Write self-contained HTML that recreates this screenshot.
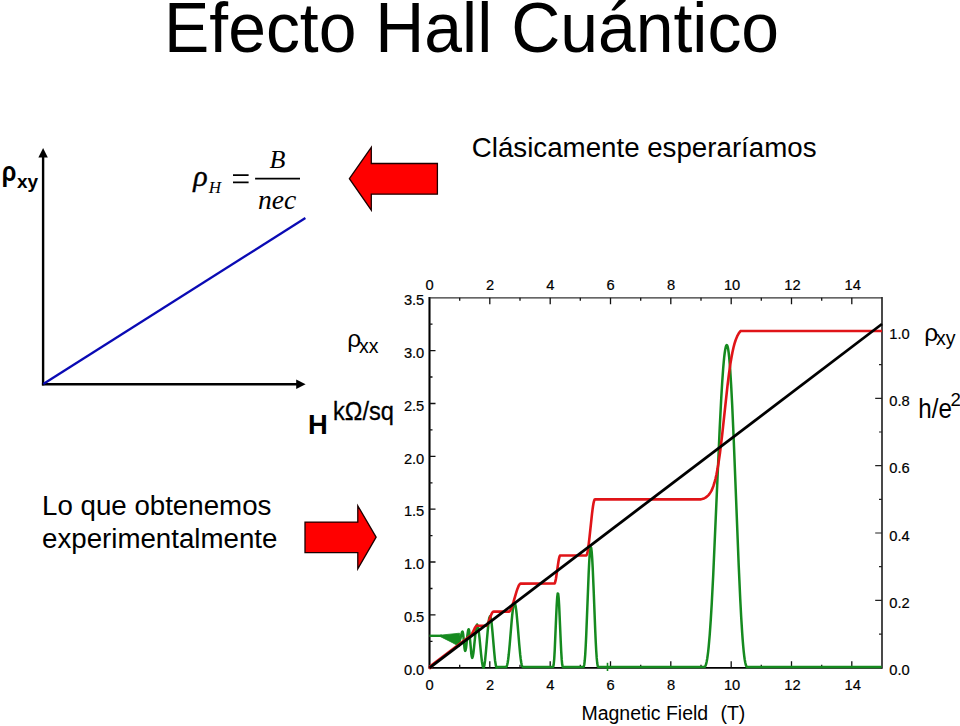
<!DOCTYPE html>
<html lang="es">
<head>
<meta charset="utf-8">
<title>Efecto Hall Cuántico</title>
<style>
html,body{margin:0;padding:0;background:#fff;}
body{width:960px;height:726px;position:relative;overflow:hidden;font-family:"Liberation Sans",sans-serif;color:#000;}
.abs{position:absolute;white-space:nowrap;margin:0;font-weight:normal;}
h1.title{left:164px;top:-10.2px;font-size:67.9px;line-height:78px;transform:scaleY(1.045);transform-origin:0 61px;}
.clas{left:471.8px;top:130.6px;font-size:27.7px;line-height:34px;transform:scaleY(1.03);transform-origin:0 26px;}
.lo{left:42px;top:490px;font-size:27.7px;line-height:32.5px;white-space:normal;width:300px;transform:scaleY(1.025);transform-origin:0 42px;}
svg{position:absolute;left:0;top:0;}
svg text{font-family:"Liberation Sans",sans-serif;fill:#000;}
.ser{font-family:"Liberation Serif",serif !important;font-style:italic;}
</style>
</head>
<body>
<h1 class="abs title">Efecto Hall Cuántico</h1>
<p class="abs clas">Clásicamente esperaríamos</p>
<p class="abs lo">Lo que obtenemos experimentalmente</p>
<svg width="960" height="726" viewBox="0 0 960 726">
 <!-- left schematic -->
 <g stroke="#000" stroke-width="2.4" fill="none">
  <path d="M43.1,385.4V156"/>
  <path d="M41.9,384.3H297"/>
 </g>
 <path d="M43.1,148 L47.8,157.4 H38.4 Z" fill="#000"/>
 <path d="M305.6,384.3 L296.2,389 V379.6 Z" fill="#000"/>
 <path d="M43.3,384 L305.4,218" stroke="#0a0ab4" stroke-width="2.3" fill="none"/>
 <text x="1.8" y="181.3" font-size="27.5" font-weight="bold" textLength="14.6" lengthAdjust="spacingAndGlyphs">ρ</text>
 <text x="17" y="187.6" font-size="19" font-weight="bold">xy</text>
 <!-- formula -->
 <g class="ser">
  <text class="ser" x="193.2" y="186" font-size="30" stroke="#000" stroke-width="0.35">ρ</text>
  <text class="ser" x="208.8" y="193.3" font-size="17">H</text>
  <text class="ser" x="269.5" y="167.7" font-size="26">B</text>
  <text class="ser" x="258" y="209.2" font-size="27.6">nec</text>
 </g>
 <path d="M233,175.2h15.6M233,182.4h15.6" stroke="#000" stroke-width="1.7"/>
 <path d="M255.1,178.6H300" stroke="#000" stroke-width="1.7"/>
 <!-- red arrows -->
 <path d="M349.4,178.7 L371.3,147.4 V163.5 H437.4 V194.2 H371.3 V210.2 Z" fill="#ff0000" stroke="#1c0000" stroke-width="1.3" stroke-linejoin="miter"/>
 <path d="M376.1,537.2 L357.8,505.8 V522.1 H305 V552.7 H357.8 V568.8 Z" fill="#ff0000" stroke="#1c0000" stroke-width="1.3" stroke-linejoin="miter"/>
 <!-- chart -->
 <g id="chart">
  <path d="M429.5,296.9V668.8" stroke="#000" stroke-width="2.1" fill="none"/>
  <path d="M429.5,667.8H882.0" stroke="#000" stroke-width="1.8" fill="none"/>
  <path d="M429.5,297.8H882.0" stroke="#333" stroke-width="1.25" fill="none"/>
  <path d="M882.0,296.9V668.8" stroke="#2a2a2a" stroke-width="1.7" fill="none"/>
  <path d="M459.7,667.8v-3M459.7,297.8v3M489.8,667.8v-6.5M489.8,297.8v6.5M520.0,667.8v-3M520.0,297.8v3M550.2,667.8v-6.5M550.2,297.8v6.5M580.3,667.8v-3M580.3,297.8v3M610.5,667.8v-6.5M610.5,297.8v6.5M640.7,667.8v-3M640.7,297.8v3M670.8,667.8v-6.5M670.8,297.8v6.5M701.0,667.8v-3M701.0,297.8v3M731.2,667.8v-6.5M731.2,297.8v6.5M761.3,667.8v-3M761.3,297.8v3M791.5,667.8v-6.5M791.5,297.8v6.5M821.7,667.8v-3M821.7,297.8v3M851.8,667.8v-6.5M851.8,297.8v6.5M429.5,641.3h3M429.5,614.9h6M429.5,588.5h3M429.5,562.0h6M429.5,535.6h3M429.5,509.2h6M429.5,482.8h3M429.5,456.3h6M429.5,429.9h3M429.5,403.5h6M429.5,377.0h3M429.5,350.6h6M429.5,324.2h3" stroke="#111" stroke-width="1.3" fill="none"/>
  <path d="M882.0,634.1h-3M882.0,600.4h-6.8M882.0,566.7h-3M882.0,533.0h-6.8M882.0,499.4h-3M882.0,465.7h-6.8M882.0,432.0h-3M882.0,398.3h-6.8M882.0,364.7h-3M882.0,331.0h-6.8" stroke="#222" stroke-width="1.2" fill="none"/>
  <path d="M440,635.2 L459.5,633.2 L460.5,640 L459.5,646.6 L452,642.4 L440,636.4 Z" fill="#158a1f" stroke="#158a1f" stroke-width="0.8"/>
  <path d="M429.5,635.8H442" stroke="#158a1f" stroke-width="2.4" fill="none"/>
  <path d="M459.5,640.5 L459.9,640.2 L460.2,639.2 L460.6,637.8 L461.4,634.3 L461.8,632.9 L462.1,631.9 L462.5,631.6 L462.8,632.3 L463.2,634.4 L464.5,648.1 L464.9,650.2 L465.2,650.9 L465.6,650.1 L466.1,647.7 L466.5,644.2 L467.3,635.9 L467.8,632.4 L468.2,630.0 L468.6,629.2 L469.1,630.3 L469.5,633.4 L469.9,638.1 L470.9,649.0 L471.3,653.7 L471.8,656.8 L472.2,657.9 L472.8,656.6 L473.4,653.0 L474.0,647.6 L475.3,634.8 L475.9,629.4 L476.5,625.8 L477.1,624.5 L477.9,626.1 L478.7,630.8 L479.5,637.8 L481.1,654.4 L481.9,661.4 L482.7,666.1 L483.5,667.8 L484.3,665.8 L485.1,660.2 L485.9,651.9 L487.6,632.2 L488.4,623.8 L489.2,618.3 L490.0,616.3 L490.8,618.3 L491.7,623.8 L492.5,632.2 L494.2,651.9 L495.0,660.2 L495.9,665.8 L496.7,667.8 L496.7,667.1 L505.7,667.1 L506.2,667.0 L506.7,666.3 L507.2,664.8 L507.7,662.5 L508.2,659.2 L508.7,655.0 L509.7,644.6 L511.7,620.6 L512.2,615.3 L512.7,610.8 L513.2,607.1 L513.7,604.6 L514.2,603.2 L514.7,603.1 L515.2,604.2 L515.7,606.6 L516.2,610.1 L516.7,614.6 L517.7,625.7 L519.2,644.0 L520.2,654.7 L520.7,658.9 L521.2,662.3 L521.7,664.8 L522.2,666.3 L522.7,667.0 L523.2,667.1 L552.7,667.1 L553.2,666.9 L553.7,664.5 L554.2,659.1 L554.7,650.6 L556.2,615.6 L556.7,605.1 L557.2,597.4 L557.7,593.5 L558.2,594.0 L558.7,598.4 L559.2,606.5 L560.7,640.8 L561.2,651.3 L561.7,659.4 L562.2,664.6 L562.7,666.9 L563.2,667.1 L583.2,667.1 L583.7,666.8 L584.2,665.0 L584.7,661.0 L585.2,654.8 L585.7,646.3 L586.2,635.9 L588.7,572.6 L589.2,562.3 L589.7,554.4 L590.2,549.2 L590.7,547.0 L591.2,547.9 L591.7,551.8 L592.2,558.6 L592.7,567.7 L593.7,591.2 L595.2,629.8 L595.7,641.0 L596.2,650.5 L596.7,657.9 L597.2,663.0 L597.7,666.0 L598.2,667.1 L704.2,667.1 L704.7,666.9 L705.2,666.3 L705.7,665.3 L706.2,663.7 L706.7,661.5 L707.2,658.8 L707.7,655.3 L708.2,651.3 L708.7,646.5 L709.7,635.0 L710.7,620.9 L711.7,604.4 L713.2,575.5 L719.7,428.3 L721.2,398.9 L722.2,382.2 L723.2,368.2 L723.7,362.3 L724.2,357.2 L724.7,353.0 L725.2,349.7 L725.7,347.2 L726.2,345.7 L726.7,345.0 L727.2,345.4 L727.7,346.8 L728.2,349.3 L728.7,353.0 L729.2,357.6 L729.7,363.3 L730.2,370.0 L731.2,386.1 L732.2,405.3 L733.7,439.0 L738.7,565.2 L740.2,598.2 L741.2,617.2 L742.2,633.2 L742.7,640.1 L743.2,646.2 L743.7,651.4 L744.2,655.8 L744.7,659.5 L745.2,662.3 L745.7,664.5 L746.2,665.9 L746.7,666.8 L747.2,667.1 L881.7,667.1" stroke="#158a1f" stroke-width="2.5" fill="none" stroke-linejoin="round"/>
  <path d="M607.5,662.8V671" stroke="#158a1f" stroke-width="1.6" fill="none"/>
  <path d="M429.0,668.5l3.5,-2.8" stroke="#e01418" stroke-width="3" fill="none"/>
  <path d="M429.5,666.8 L470.0,636.0 L470.5,635.8 L471.0,635.4 L471.5,634.8 L472.0,633.9 L474.5,628.7 L475.0,627.7 L475.5,626.9 L476.0,626.2 L476.5,625.8 L477.0,625.7 L486.0,625.7 L486.5,625.5 L487.0,625.0 L487.5,624.2 L488.0,623.2 L489.0,620.7 L491.0,615.3 L491.5,614.1 L492.0,613.1 L492.5,612.3 L493.0,611.8 L493.5,611.6 L508.5,611.6 L509.0,611.6 L509.5,611.3 L510.0,610.7 L510.5,609.9 L511.0,609.0 L512.0,606.5 L513.5,601.9 L516.5,591.7 L517.5,588.7 L518.5,586.2 L519.0,585.2 L519.5,584.5 L520.0,583.9 L520.5,583.6 L554.5,583.5 L555.0,582.7 L555.5,580.9 L556.0,578.3 L558.5,561.3 L559.0,558.6 L559.5,556.6 L560.0,555.6 L560.5,555.5 L586.0,555.5 L586.5,555.3 L587.0,554.2 L587.5,552.1 L588.0,549.3 L588.5,545.8 L589.5,537.4 L592.0,513.9 L592.5,509.8 L593.0,506.2 L593.5,503.3 L594.0,501.1 L594.5,499.7 L595.0,499.4 L700.5,499.4 L702.0,499.1 L704.0,498.4 L705.5,497.6 L706.5,496.9 L707.5,496.1 L708.5,495.1 L709.5,493.9 L710.5,492.4 L711.5,490.6 L712.5,488.4 L713.5,485.7 L714.5,482.5 L715.5,478.8 L716.5,474.3 L717.5,469.1 L718.5,463.1 L720.0,452.7 L722.0,436.3 L727.5,385.6 L729.0,373.6 L730.5,363.1 L731.5,357.2 L732.5,352.0 L733.5,347.5 L734.5,343.7 L735.5,340.5 L736.5,337.9 L737.5,335.6 L738.5,333.8 L739.5,332.3 L740.5,331.1 L741.0,331.0 L882.0,331.0" stroke="#e01418" stroke-width="2.6" fill="none" stroke-linejoin="round"/>
  <path d="M429.5,667.8 L882.0,324" stroke="#000" stroke-width="2.8" fill="none"/>
  <g font-size="14.7" stroke="#000" stroke-width="0.2">
<text x="429.7" y="689.7" text-anchor="middle">0</text>
<text x="429.7" y="290.4" text-anchor="middle">0</text>
<text x="490.0" y="689.7" text-anchor="middle">2</text>
<text x="490.0" y="290.4" text-anchor="middle">2</text>
<text x="550.4" y="689.7" text-anchor="middle">4</text>
<text x="550.4" y="290.4" text-anchor="middle">4</text>
<text x="610.7" y="689.7" text-anchor="middle">6</text>
<text x="610.7" y="290.4" text-anchor="middle">6</text>
<text x="671.0" y="689.7" text-anchor="middle">8</text>
<text x="671.0" y="290.4" text-anchor="middle">8</text>
<text x="732.1" y="689.7" text-anchor="middle">10</text>
<text x="732.1" y="290.4" text-anchor="middle">10</text>
<text x="792.4" y="689.7" text-anchor="middle">12</text>
<text x="792.4" y="290.4" text-anchor="middle">12</text>
<text x="852.7" y="689.7" text-anchor="middle">14</text>
<text x="852.7" y="290.4" text-anchor="middle">14</text>
<text x="424.3" y="675.0" text-anchor="end">0.0</text>
<text x="424.3" y="622.1" text-anchor="end">0.5</text>
<text x="424.3" y="569.2" text-anchor="end">1.0</text>
<text x="424.3" y="516.4" text-anchor="end">1.5</text>
<text x="424.3" y="463.5" text-anchor="end">2.0</text>
<text x="424.3" y="410.7" text-anchor="end">2.5</text>
<text x="424.3" y="357.8" text-anchor="end">3.0</text>
<text x="424.3" y="304.9" text-anchor="end">3.5</text>
<text x="889.3" y="675.2">0.0</text>
<text x="889.3" y="607.9">0.2</text>
<text x="889.3" y="540.5">0.4</text>
<text x="889.3" y="473.2">0.6</text>
<text x="889.3" y="405.8">0.8</text>
<text x="889.3" y="338.5">1.0</text>
  </g>
  <text x="581.4" y="719.5" font-size="19.5">Magnetic Field</text>
  <text x="720.4" y="719.5" font-size="19.5">(T)</text>
  <!-- axis titles -->
  <text x="347.3" y="346.7" font-size="24.5">ρ</text>
  <text x="359" y="352.8" font-size="19.5">xx</text>
  <text x="333" y="419.9" font-size="26.5" textLength="61" lengthAdjust="spacingAndGlyphs" stroke="#000" stroke-width="0.3">kΩ/sq</text>
  <text x="308" y="434" font-size="27.4" font-weight="bold">H</text>
  <text x="924.2" y="340.6" font-size="24.5">ρ</text>
  <text x="936" y="345.2" font-size="19.5">xy</text>
  <text x="918.3" y="418.3" font-size="27.6" textLength="33.6" lengthAdjust="spacingAndGlyphs">h/e</text>
  <text x="950.6" y="405.5" font-size="18.7">2</text>
 </g>
</svg>
</body>
</html>
